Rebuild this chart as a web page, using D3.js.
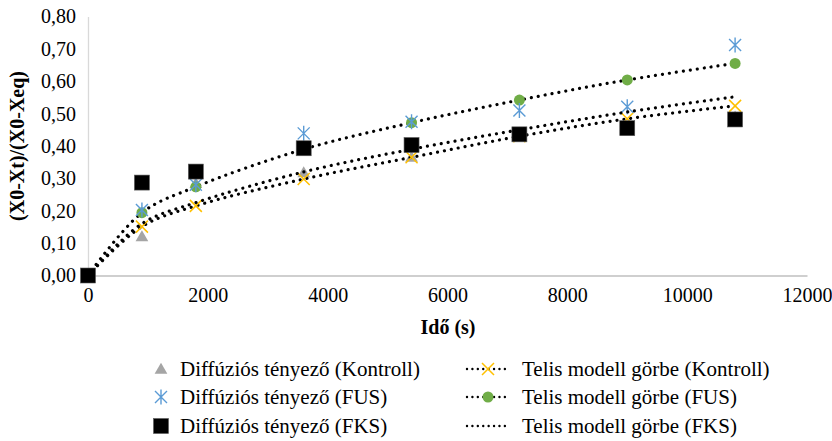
<!DOCTYPE html>
<html><head><meta charset="utf-8">
<script src="https://cdn.jsdelivr.net/npm/d3@7"></script>
<style>body{margin:0;background:#fff}svg{display:block}text{font-family:"Liberation Serif","Times New Roman",serif}</style>
</head><body><svg id="c" width="832" height="441"></svg>
<script>
const times = [0, 900, 1800, 3600, 5400, 7200, 9000, 10800];
const diffKontroll = [0, 0.12, 0.285, 0.318, 0.366, 0.44, 0.46, 0.49];
const diffFUS = [0, 0.202, 0.28, 0.439, 0.475, 0.51, 0.521, 0.712];
const diffFKS = [0, 0.287, 0.321, 0.393, 0.403, 0.436, 0.455, 0.482];
const telisKontroll = [0, 0.151, 0.215, 0.298, 0.365, 0.43, 0.484, 0.524];
const telisFUS = [0, 0.194, 0.274, 0.39, 0.472, 0.542, 0.604, 0.655];
const telisFKS = [0, 0.16, 0.225, 0.32, 0.39, 0.45, 0.505, 0.552];
const xTicks = [0, 2000, 4000, 6000, 8000, 10000, 12000];
const yTicks = [0, 0.1, 0.2, 0.3, 0.4, 0.5, 0.6, 0.7, 0.8];
const legendLabels = ["Diffúziós tényező (Kontroll)", "Diffúziós tényező (FUS)", "Diffúziós tényező (FKS)",
  "Telis modell görbe (Kontroll)", "Telis modell görbe (FUS)", "Telis modell görbe (FKS)"];

const svg = d3.select("#c");
const x = d3.scaleLinear().domain([0, 12000]).range([88, 807]);
const y = d3.scaleLinear().domain([0, 0.8]).range([275.5, 16.5]);
const FS = 20, LFS = 21;
const comma = v => d3.format(".2f")(v).replace(".", ",");

// axes
const xAx = svg.append("g").attr("transform", "translate(0,275.5)")
  .call(d3.axisBottom(x).tickValues(xTicks).tickSize(0).tickPadding(12).tickFormat(d3.format("d")));
xAx.select(".domain").attr("stroke", "#bfbfbf").attr("stroke-width", 1.3);
xAx.selectAll("text").attr("font-size", FS).attr("fill", "#000").style("font-family", "Liberation Serif");
const yAx = svg.append("g").attr("transform", "translate(88,0)")
  .call(d3.axisLeft(y).tickValues(yTicks).tickSize(0).tickPadding(12).tickFormat(comma));
yAx.select(".domain").attr("stroke", "#d9d9d9").attr("stroke-width", 1.3);
yAx.selectAll("text").attr("font-size", FS).attr("fill", "#000").style("font-family", "Liberation Serif");

svg.append("text").attr("x", 448).attr("y", 334).attr("text-anchor", "middle")
  .attr("font-size", FS).attr("font-weight", "bold").text("Idő (s)");
svg.append("text").attr("transform", "translate(24,146) rotate(-90)").attr("text-anchor", "middle")
  .attr("font-size", FS).attr("font-weight", "bold").text("(X0-Xt)/(X0-Xeq)");

const line = d3.line().x(d => x(d[0])).y(d => y(d[1])).curve(d3.curveCatmullRom.alpha(0.5));
const pts = arr => times.map((t, i) => [t, arr[i]]);
function dotted(g, data) {
  g.append("path").attr("d", line(data)).attr("fill", "none").attr("stroke", "#000")
    .attr("stroke-width", 3.2).attr("stroke-linecap", "round").attr("stroke-dasharray", "0.01 7");
}
const sym = {
  tri: (g, cx, cy) => g.append("path").attr("d", d3.symbol(d3.symbolTriangle, 70)())
      .attr("transform", `translate(${cx},${cy + 1})`).attr("fill", "#a5a5a5"),
  star: (g, cx, cy) => g.append("path").attr("d", `M-6,-6L6,6M-6,6L6,-6M0,-7.5L0,7.5`)
      .attr("transform", `translate(${cx},${cy})`).attr("stroke", "#5b9bd5").attr("stroke-width", 1.4).attr("fill", "none"),
  sq: (g, cx, cy) => g.append("rect").attr("x", cx - 7.5).attr("y", cy - 7.5).attr("width", 15).attr("height", 15)
      .attr("fill", "#000").attr("stroke", "#595959").attr("stroke-width", 0.6),
  xm: (g, cx, cy) => g.append("path").attr("d", "M-6,-6L6,6M-6,6L6,-6")
      .attr("transform", `translate(${cx},${cy})`).attr("stroke", "#ffc000").attr("stroke-width", 1.5).attr("fill", "none"),
  circ: (g, cx, cy) => g.append("circle").attr("cx", cx).attr("cy", cy).attr("r", 5.5).attr("fill", "#70ad47")
};

const plot = svg.append("g");
pts(diffKontroll).forEach(d => sym.tri(plot, x(d[0]), y(d[1])));
dotted(plot, pts(telisKontroll));
pts(telisKontroll).forEach(d => sym.xm(plot, x(d[0]), y(d[1])));
dotted(plot, pts(telisFUS));
pts(telisFUS).forEach(d => sym.circ(plot, x(d[0]), y(d[1])));
pts(diffFUS).forEach(d => sym.star(plot, x(d[0]), y(d[1])));
pts(diffFKS).forEach(d => sym.sq(plot, x(d[0]), y(d[1])));
dotted(plot, pts(telisFKS));

// legend
const lg = svg.append("g");
const rows = [369, 397, 426];
const leftSyms = [sym.tri, sym.star, sym.sq];
const rightSyms = [sym.xm, sym.circ, null];
rows.forEach((ry, i) => {
  leftSyms[i](lg, 161, ry);
  lg.append("text").attr("x", 180).attr("y", ry + 7).attr("font-size", LFS).text(legendLabels[i]);
  lg.append("path").attr("d", `M467,${ry}L510,${ry}`).attr("stroke", "#000").attr("stroke-width", 2.4)
    .attr("stroke-linecap", "round").attr("stroke-dasharray", "0.01 5.4");
  if (rightSyms[i]) rightSyms[i](lg, 488, ry);
  lg.append("text").attr("x", 522).attr("y", ry + 7).attr("font-size", LFS).text(legendLabels[3 + i]);
});
</script></body></html>
